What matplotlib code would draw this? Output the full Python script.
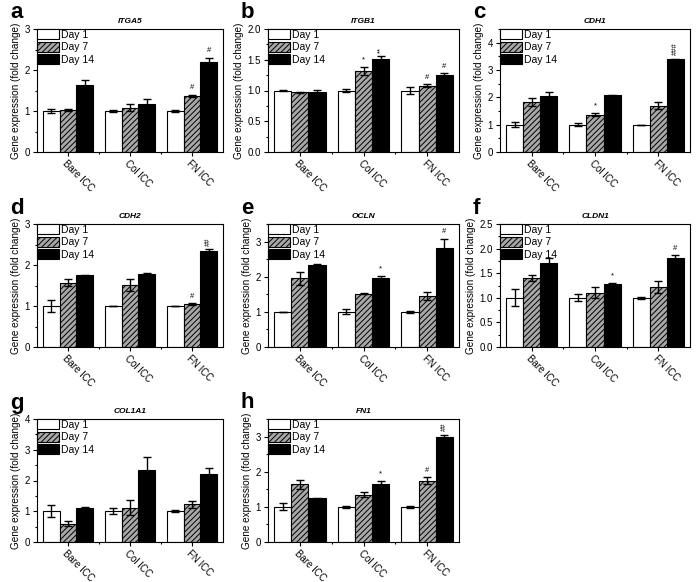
import matplotlib
matplotlib.use("Agg")
import matplotlib.pyplot as plt
from matplotlib.ticker import MultipleLocator, FormatStrFormatter
import numpy as np

plt.rcParams['font.family'] = ['Liberation Sans', 'DejaVu Sans']
plt.rcParams['hatch.linewidth'] = 0.7

groups = ["Bare ICC", "Col ICC", "FN ICC"]
days = ["Day 1", "Day 7", "Day 14"]
letters = ["a", "b", "c", "d", "e", "f", "g", "h"]
genes = ["ITGA5", "ITGB1", "CDH1", "CDH2", "OCLN", "CLDN1", "COL1A1", "FN1"]

# means[group][day]  (day order: Day 1, Day 7, Day 14)
itga5_mean = [[1.00, 1.03, 1.63], [1.00, 1.08, 1.18], [1.00, 1.37, 2.20]]
itga5_err = [[0.05, 0.03, 0.12], [0.03, 0.08, 0.12], [0.03, 0.03, 0.10]]
itgb1_mean = [[1.00, 0.97, 0.97], [1.00, 1.32, 1.51], [1.00, 1.08, 1.25]]
itgb1_err = [[0.01, 0.01, 0.04], [0.02, 0.06, 0.05], [0.05, 0.02, 0.03]]
cdh1_mean = [[1.00, 1.83, 2.06], [1.00, 1.37, 2.07], [1.00, 1.70, 3.39]]
cdh1_err = [[0.08, 0.15, 0.12], [0.05, 0.05, 0.02], [0.00, 0.13, 0.03]]
cdh2_mean = [[1.00, 1.57, 1.75], [1.00, 1.51, 1.79], [1.00, 1.05, 2.33]]
cdh2_err = [[0.14, 0.09, 0.01], [0.00, 0.14, 0.02], [0.01, 0.02, 0.06]]
ocln_mean = [[1.00, 1.95, 2.33], [1.00, 1.52, 1.95], [1.00, 1.45, 2.83]]
ocln_err = [[0.01, 0.18, 0.02], [0.07, 0.02, 0.07], [0.02, 0.12, 0.25]]
cldn1_mean = [[1.00, 1.40, 1.71], [1.00, 1.10, 1.29], [1.00, 1.22, 1.80]]
cldn1_err = [[0.17, 0.06, 0.09], [0.07, 0.11, 0.02], [0.02, 0.12, 0.07]]
col1a1_mean = [[1.01, 0.60, 1.11], [1.00, 1.12, 2.34], [1.00, 1.22, 2.20]]
col1a1_err = [[0.20, 0.07, 0.03], [0.10, 0.23, 0.44], [0.03, 0.10, 0.22]]
fn1_mean = [[1.00, 1.64, 1.24], [1.00, 1.35, 1.64], [1.00, 1.75, 3.00]]
fn1_err = [[0.10, 0.12, 0.01], [0.02, 0.07, 0.09], [0.03, 0.10, 0.05]]

# significance marks: (group index, day index, text)
itga5_marks = [(2, 1, "#"), (2, 2, "#")]
itgb1_marks = [(1, 1, "*"), (1, 2, "**"), (2, 1, "#"), (2, 2, "#")]
cdh1_marks = [(1, 1, "*"), (2, 2, "###")]
cdh2_marks = [(2, 1, "#"), (2, 2, "##")]
ocln_marks = [(1, 2, "*"), (2, 2, "#")]
cldn1_marks = [(1, 2, "*"), (2, 2, "#")]
col1a1_marks = []
fn1_marks = [(1, 2, "*"), (2, 1, "#"), (2, 2, "##")]

y_max = [3, 2.0, 4.5, 3, 3.5, 2.5, 4, 3.5]
y_major = [1, 0.5, 1, 1, 1, 0.5, 1, 1]
y_fmt = ["%d", "%.1f", "%d", "%d", "%d", "%.1f", "%d", "%d"]

means = [itga5_mean, itgb1_mean, cdh1_mean, cdh2_mean, ocln_mean, cldn1_mean, col1a1_mean, fn1_mean]
errs = [itga5_err, itgb1_err, cdh1_err, cdh2_err, ocln_err, cldn1_err, col1a1_err, fn1_err]
marks = [itga5_marks, itgb1_marks, cdh1_marks, cdh2_marks, ocln_marks, cldn1_marks, col1a1_marks, fn1_marks]

W, H = 700, 582
fig = plt.figure(figsize=(W / 100, H / 100), dpi=100)

col_left = [37, 268, 500]
col_width = [186, 191, 190]
row_top = [29, 224, 419]
ax_h = 123

face = ["white", "#a8a8a8", "black"]
hatch = [None, "//////", None]
bw = 0.27

for i in range(8):
    r, c = divmod(i, 3)
    ax = fig.add_axes([col_left[c] / W, 1 - (row_top[r] + ax_h) / H, col_width[c] / W, ax_h / H])
    m = np.array(means[i])
    e = np.array(errs[i])
    x = np.arange(len(groups))
    handles = []
    for d in range(3):
        xs = x + (d - 1) * bw
        b = ax.bar(xs, m[:, d], bw, color=face[d], edgecolor="black", linewidth=0.8,
                   hatch=hatch[d], label=days[d], zorder=2)
        ax.errorbar(xs, m[:, d], yerr=e[:, d], fmt="none", ecolor="black", elinewidth=1.0,
                    capsize=3.0, capthick=1.0, zorder=3)
        handles.append(b)
    for (g, d, txt) in marks[i]:
        xx = x[g] + (d - 1) * bw
        yy = m[g, d] + e[g, d]
        rot = 90 if len(txt) > 1 else 0
        ax.annotate(txt, (xx, yy), xytext=(0, 2.5), textcoords="offset points",
                    ha="center", va="bottom", fontsize=5.5, rotation=rot)
    ax.set_xlim(-0.5, 2.5)
    ax.set_ylim(0, y_max[i])
    ax.yaxis.set_major_locator(MultipleLocator(y_major[i]))
    ax.yaxis.set_minor_locator(MultipleLocator(y_major[i] / 2))
    ax.yaxis.set_major_formatter(FormatStrFormatter(y_fmt[i]))
    ax.set_xticks(x)
    ax.set_xticks([0.5, 1.5], minor=True)
    ax.set_xticklabels(groups, rotation=-45, ha="left", va="top", rotation_mode="anchor", fontsize=6.8)
    ax.tick_params(axis="both", which="major", direction="out", length=3, width=0.8, labelsize=7, pad=2)
    ax.tick_params(axis="x", which="major", pad=1.5)
    ax.tick_params(axis="both", which="minor", direction="out", length=1.5, width=0.8)
    for s in ax.spines.values():
        s.set_linewidth(0.8)
    ax.set_ylabel("Gene expression (fold change)", fontsize=7.2, labelpad=3)
    ax.set_title(genes[i], fontsize=6, fontweight="bold", fontstyle="italic", pad=4)
    ax.legend(handles=handles, loc="upper left", frameon=False, fontsize=7.5,
              handlelength=2.1, handleheight=1.1, labelspacing=0.2, handletextpad=0.25,
              borderpad=0.0, borderaxespad=0.0)
    fig.text((col_left[c] - 27) / W, 1 - (row_top[r] - 16) / H, letters[i], fontsize=16,
             fontweight="bold", ha="left", va="center")

fig.savefig("out.png", dpi=100)
